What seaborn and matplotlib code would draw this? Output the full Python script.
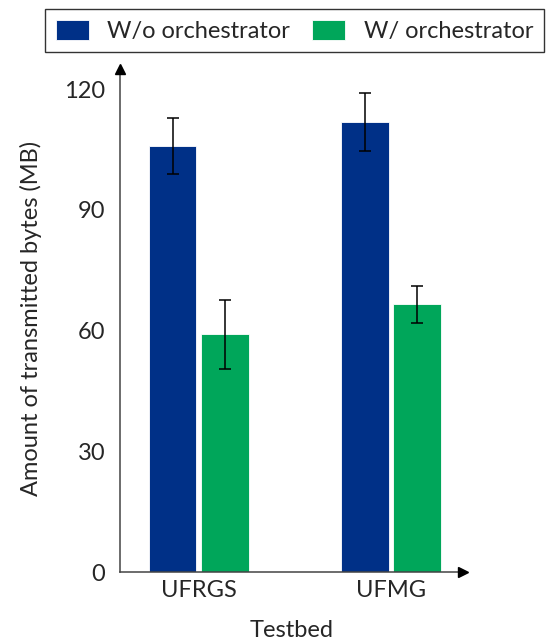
import matplotlib
matplotlib.use("Agg")
import matplotlib.pyplot as plt
import seaborn as sns
import pandas as pd
import numpy as np

testbeds = ["UFRGS", "UFMG"]
series = ["W/o orchestrator", "W/ orchestrator"]
means_wo = [105.8, 111.9]
means_w = [59.1, 66.6]
err_wo = [7.0, 7.2]
err_w = [8.6, 4.6]
yticks = [0, 30, 60, 90, 120]

colors = ["#003087", "#00A65A"]
FS = 17

sns.set_theme(style="white")
plt.rcParams["font.family"] = ["Lato", "DejaVu Sans"]

df = pd.DataFrame({
    "Testbed": testbeds * 2,
    "Series": [series[0]] * 2 + [series[1]] * 2,
    "Value": means_wo + means_w,
    "Err": err_wo + err_w,
})

fig = plt.figure(figsize=(5.47, 6.42), dpi=100)
ax = fig.add_axes([0.2194, 0.109, 0.8464 - 0.2194, 0.8925 - 0.109])

sns.barplot(data=df, x="Testbed", y="Value", hue="Series", order=testbeds,
            hue_order=series, palette=colors, width=0.544, gap=0.092,
            errorbar=None, edgecolor="white", linewidth=0.6, ax=ax,
            saturation=1, legend=True)

# error bars at bar centres
for patch_list, errs, vals in [(ax.containers[0], err_wo, means_wo),
                               (ax.containers[1], err_w, means_w)]:
    xs = [p.get_x() + p.get_width() / 2 for p in patch_list]
    ax.errorbar(xs, vals, yerr=errs, fmt="none", ecolor="black",
                elinewidth=1.1, capsize=4, capthick=1.1, zorder=5)

ax.set_xlim(-0.409, 1.374)
ax.set_ylim(0, 125)
ax.set_yticks(yticks)
ax.set_yticklabels([str(t) for t in yticks])
ax.tick_params(axis="y", direction="inout", length=7, width=1, color="#444444",
               labelsize=FS, pad=7)
ax.tick_params(axis="x", length=0, labelsize=FS, pad=6)
ax.set_xlabel("Testbed", fontsize=FS, labelpad=13.5)
ax.set_ylabel("Amount of transmitted bytes (MB)", fontsize=FS)
ax.yaxis.set_label_coords(-0.227, 0.505)

for s in ["top", "right"]:
    ax.spines[s].set_visible(False)
for s in ["left", "bottom"]:
    ax.spines[s].set_color("#444444")
    ax.spines[s].set_linewidth(1.1)

# arrow heads
ax.plot(1, 0, ">", color="black", markersize=7, transform=ax.transAxes, clip_on=False, zorder=6)
ax.plot(0, 1, "^", color="black", markersize=7, transform=ax.transAxes, clip_on=False, zorder=6)

handles, labels = ax.get_legend_handles_labels()
ax.get_legend().remove()
leg = fig.legend(handles, labels, loc="upper center", bbox_to_anchor=(0.538, 0.986),
                 ncol=2, fontsize=FS, frameon=True, fancybox=False,
                 edgecolor="black", handlelength=1.4, handleheight=0.92,
                 handletextpad=0.8, columnspacing=0.9, borderpad=0.45,
                 borderaxespad=0)
leg.get_frame().set_linewidth(1.0)
for h in leg.legend_handles:
    h.set_edgecolor("white")

fig.savefig("out.png", dpi=100)
